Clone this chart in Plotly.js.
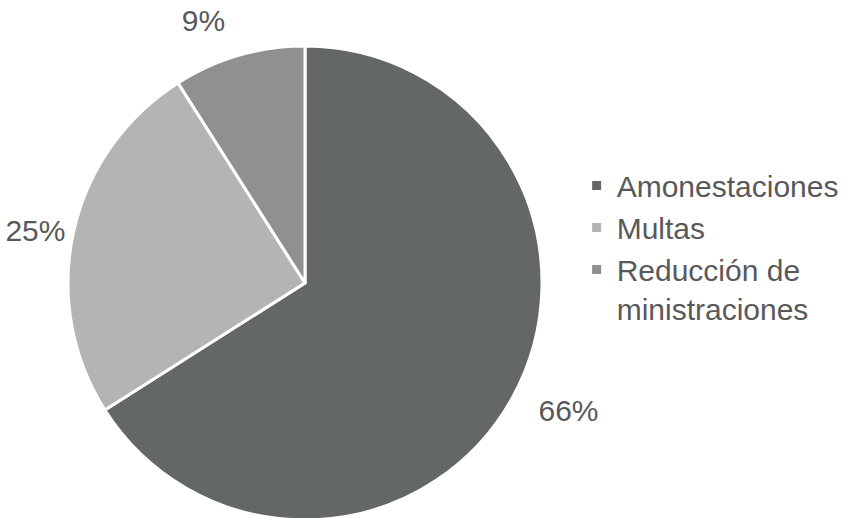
<!DOCTYPE html>
<html>
<head>
<meta charset="utf-8">
<script src="https://cdn.plot.ly/plotly-3.0.1.min.js"></script>
<style>
html, body { margin: 0; padding: 0; overflow: hidden; background: #ffffff; }
#chart { width: 848px; height: 540px; }
</style>
</head>
<body>
<div id="chart"></div>
<script>
const categories = ["Amonestaciones", "Multas", "Reducción de<br>ministraciones"];
const values = [66, 25, 9];
const colors = ["#646767", "#b3b4b4", "#8f9090"];

const FONT = "Liberation Sans, Arial, sans-serif";
const TEXT_COLOR = "#595959";

// main pie (slices + legend); only the 25% label is drawn from here
const pieTrace = {
  type: "pie",
  labels: categories,
  values: values,
  sort: false,
  direction: "clockwise",
  rotation: 0,
  marker: { colors: colors, line: { color: "#ffffff", width: 3 } },
  texttemplate: ["", "%{percent:.0%}", ""],
  textposition: "outside",
  outsidetextfont: { family: FONT, size: 30, color: TEXT_COLOR },
  automargin: false,
  hoverinfo: "none",
  domain: { x: [68 / 848, 542 / 848], y: [20 / 514, 494 / 514] }
};

// transparent, slightly larger companion pie that carries the other percentage labels
const labelTrace = {
  type: "pie",
  labels: categories,
  values: values,
  sort: false,
  direction: "clockwise",
  rotation: 0,
  marker: { colors: ["rgba(0,0,0,0)", "rgba(0,0,0,0)", "rgba(0,0,0,0)"], line: { width: 0 } },
  texttemplate: ["%{percent:.0%}", "", "%{percent:.0%}"],
  textposition: "outside",
  outsidetextfont: { family: FONT, size: 30, color: TEXT_COLOR },
  automargin: false,
  hoverinfo: "none",
  showlegend: false,
  domain: { x: [48 / 848, 562 / 848], y: [0, 1] }
};

const layout = {
  width: 848,
  height: 540,
  margin: { l: 0, r: 0, t: 26, b: 0 },
  paper_bgcolor: "#ffffff",
  plot_bgcolor: "#ffffff",
  font: { family: FONT, size: 30, color: TEXT_COLOR },
  showlegend: true,
  legend: {
    x: 0.68,
    xanchor: "left",
    y: 0.570,
    yanchor: "middle",
    valign: "top",
    font: { family: FONT, size: 30, color: TEXT_COLOR },
    bgcolor: "rgba(0,0,0,0)"
  }
};

Plotly.newPlot("chart", [labelTrace, pieTrace], layout, { displayModeBar: false, staticPlot: true });
</script>
</body>
</html>
